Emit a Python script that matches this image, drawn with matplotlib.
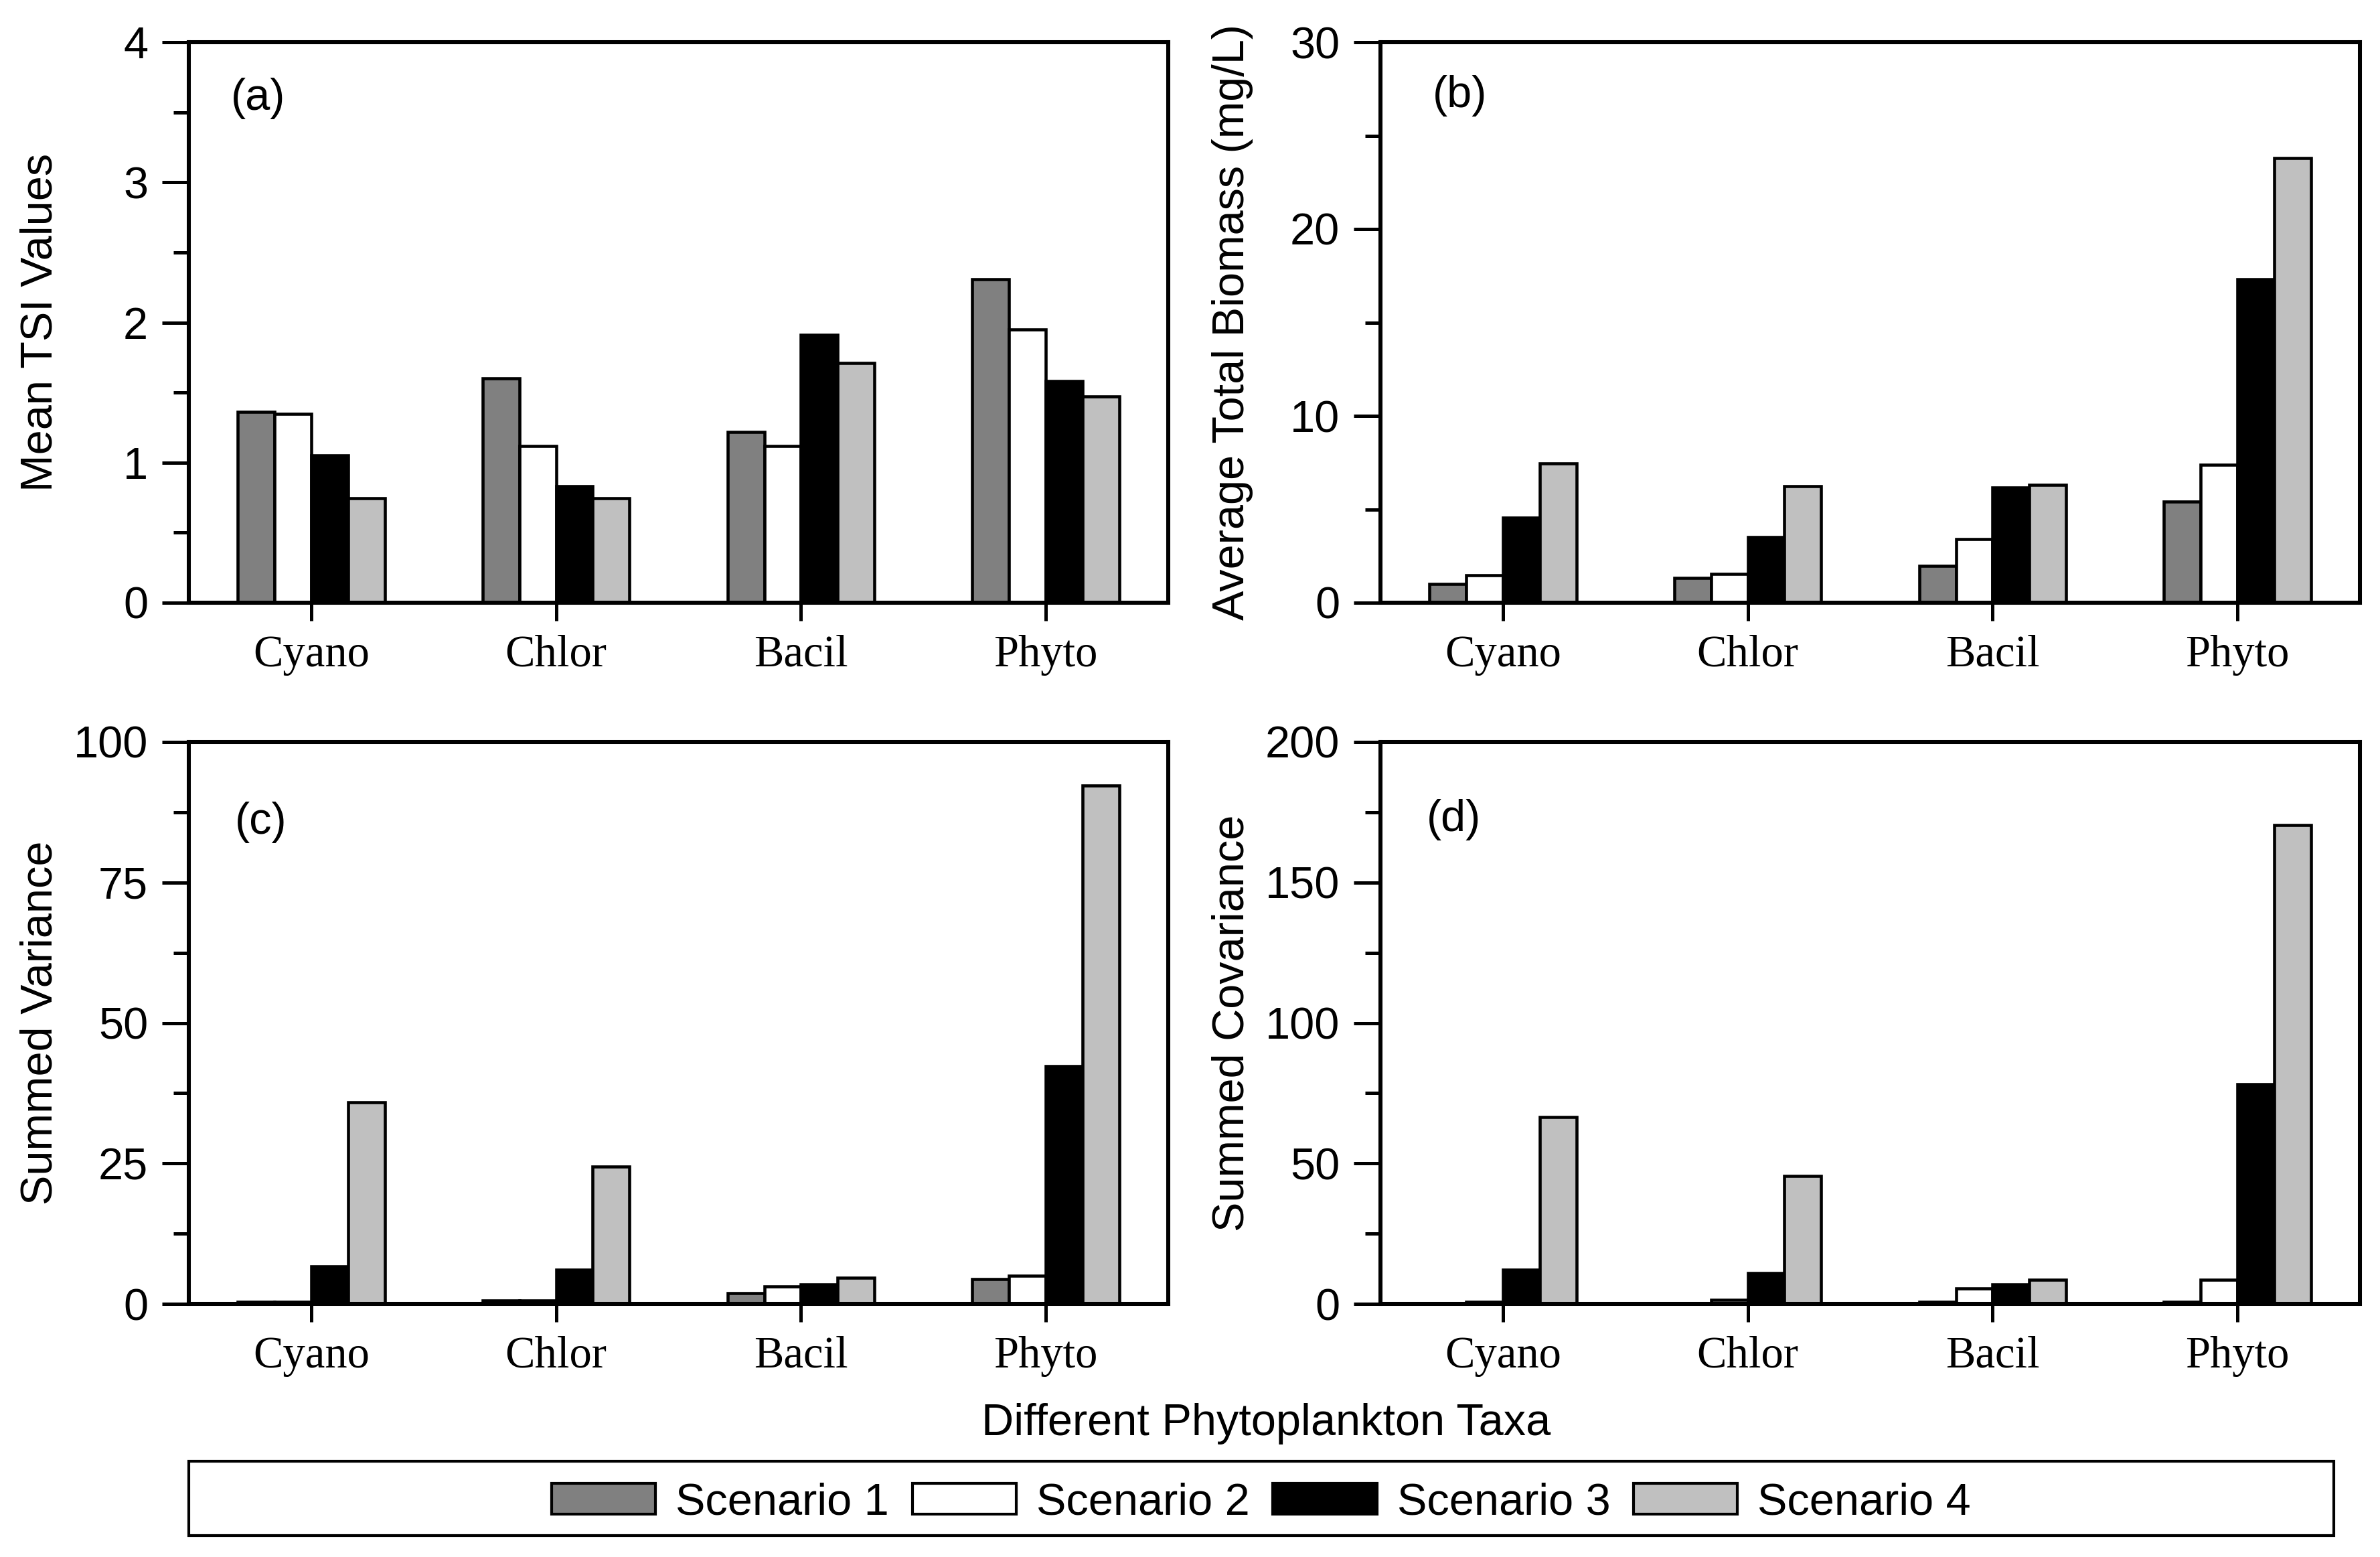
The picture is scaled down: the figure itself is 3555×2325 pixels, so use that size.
import matplotlib
matplotlib.use("Agg")
import matplotlib.pyplot as plt
from matplotlib.patches import Rectangle, Patch
from matplotlib.ticker import MultipleLocator
import numpy as np

plt.rcParams['font.family'] = ['Liberation Sans', 'DejaVu Sans']

taxa = ["Cyano", "Chlor", "Bacil", "Phyto"]
scenarios = ["Scenario 1", "Scenario 2", "Scenario 3", "Scenario 4"]
colors = ["#808080", "#ffffff", "#000000", "#c0c0c0"]

# values[scenario][taxon]
tsi = [
    [1.36, 1.60, 1.22, 2.31],
    [1.35, 1.12, 1.12, 1.95],
    [1.05, 0.83, 1.91, 1.58],
    [0.745, 0.745, 1.71, 1.47],
]
biomass = [
    [0.99, 1.34, 1.96, 5.40],
    [1.46, 1.53, 3.39, 7.40],
    [4.55, 3.51, 6.17, 17.3],
    [7.47, 6.22, 6.32, 23.8],
]
variance = [
    [0.3, 0.6, 1.9, 4.4],
    [0.3, 0.6, 3.1, 5.0],
    [6.7, 6.1, 3.5, 42.3],
    [35.9, 24.4, 4.6, 92.2],
]
covariance = [
    [0.1, 0.2, 0.8, 0.8],
    [0.8, 1.5, 5.6, 8.5],
    [12.2, 11.0, 6.9, 78.3],
    [66.6, 45.5, 8.5, 170.5],
]

panels = [
    dict(data=tsi, ylabel="Mean TSI Values", ylim=4, major=1, minor=0.5, tag="(a)"),
    dict(data=biomass, ylabel="Average Total Biomass (mg/L)", ylim=30, major=10, minor=5, tag="(b)"),
    dict(data=variance, ylabel="Summed Variance", ylim=100, major=25, minor=12.5, tag="(c)"),
    dict(data=covariance, ylabel="Summed Covariance", ylim=200, major=50, minor=25, tag="(d)"),
]

W, H = 3555, 2325
fig = plt.figure(figsize=(W / 300, H / 300), dpi=300)

aw = 1463 / W
positions = [
    (282 / W, 1 - 900 / H, aw, 837 / H),
    (2062 / W, 1 - 900 / H, aw, 837 / H),
    (282 / W, 1 - 1947 / H, aw, 839 / H),
    (2062 / W, 1 - 1947 / H, aw, 839 / H),
]
tag_pos = [(0.043, 0.90), (0.053, 0.905), (0.047, 0.857), (0.047, 0.862)]

x = np.arange(1, len(taxa) + 1)
bw = 0.15
offsets = [-1.5 * bw, -0.5 * bw, 0.5 * bw, 1.5 * bw]

for i, p in enumerate(panels):
    ax = fig.add_axes(positions[i])
    for s in range(4):
        ax.bar(x + offsets[s], p["data"][s], width=bw, color=colors[s],
               edgecolor="black", linewidth=1.1, zorder=2)
    ax.set_xlim(0.5, 4.5)
    ax.set_ylim(0, p["ylim"])
    ax.yaxis.set_major_locator(MultipleLocator(p["major"]))
    ax.yaxis.set_minor_locator(MultipleLocator(p["minor"]))
    ax.set_xticks(x)
    ax.set_xticklabels(taxa, family=['Liberation Serif', 'DejaVu Serif'], fontsize=16)
    ax.tick_params(axis='y', which='major', direction='out', length=9.6, width=1.2,
                   labelsize=16, pad=5, right=False)
    ax.tick_params(axis='y', which='minor', direction='out', length=5.6, width=1.2, right=False)
    ax.tick_params(axis='x', which='major', direction='out', length=6.5, width=1.2,
                   pad=5, top=False)
    ax.tick_params(axis='x', which='minor', bottom=False, top=False)
    for sp in ax.spines.values():
        sp.set_linewidth(1.45)
    ax.set_ylabel(p["ylabel"], fontsize=16)
    ax.yaxis.set_label_coords(-0.13, 0.5)
    ax.text(tag_pos[i][0], tag_pos[i][1], p["tag"], transform=ax.transAxes,
            ha='left', va='center', fontsize=16)

fig.text(0.532, 1 - 2143 / H, "Different Phytoplankton Taxa", ha='center',
         va='baseline', fontsize=16)

# legend frame
fig.patches.append(Rectangle((282 / W, 1 - 2293 / H), (3486 - 282) / W, (2293 - 2182) / H,
                             transform=fig.transFigure, fill=False, edgecolor='black',
                             linewidth=1.0))
handles = [Patch(facecolor=c, edgecolor='black', linewidth=1.0) for c in colors]
fig.legend(handles, scenarios, loc='center', bbox_to_anchor=(1884 / W, 1 - 2244.5 / H),
           ncol=4, frameon=False, fontsize=16, handlelength=2.33, handleheight=0.675,
           handletextpad=0.45, columnspacing=0.52, borderpad=0, borderaxespad=0)

fig.savefig("out.png", dpi=300)
